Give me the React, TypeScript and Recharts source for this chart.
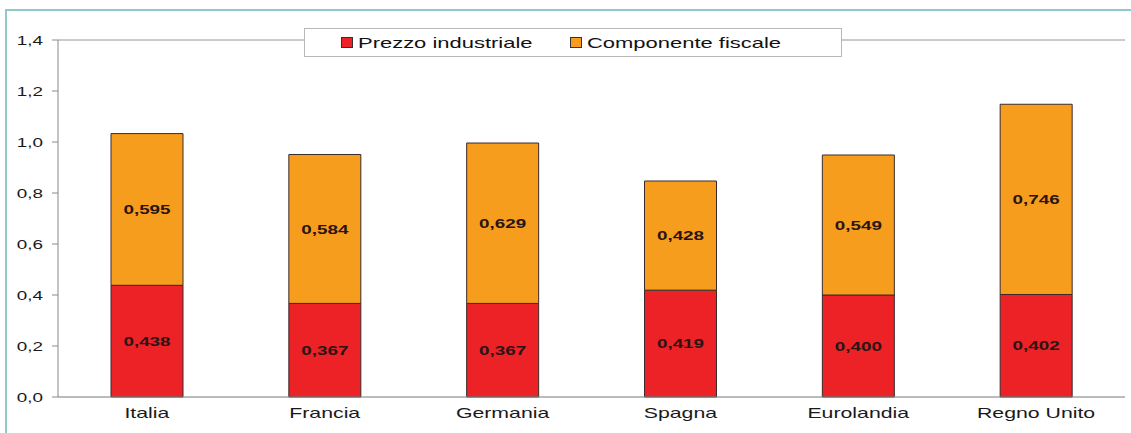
import { Bar, BarChart, CartesianGrid, LabelList, ReferenceLine, XAxis, YAxis } from "recharts";

const paesi = ["Italia", "Francia", "Germania", "Spagna", "Eurolandia", "Regno Unito"];
const prezzoIndustriale = [0.438, 0.367, 0.367, 0.419, 0.4, 0.402];
const componenteFiscale = [0.595, 0.584, 0.629, 0.428, 0.549, 0.746];
const yTicks = [0, 0.2, 0.4, 0.6, 0.8, 1.0, 1.2, 1.4];

const RED = "#ec2227";
const ORANGE = "#f79d1e";
const FONT = "Liberation Sans, Arial, sans-serif";
// the typeface in this figure is set wide, so text is stretched horizontally
const SX = 1.52;

const data = paesi.map((paese, i) => ({
	paese,
	prezzo: prezzoIndustriale[i],
	fiscale: componenteFiscale[i],
}));

const fmt3 = (v: any) => Number(v).toFixed(3).replace(".", ",");
const fmt1 = (v: any) => Number(v).toFixed(1).replace(".", ",");

const XTick = ({ x, y, payload }: any) => (
	<g transform={`translate(${x},${y})`}>
		<text transform={`scale(${SX},1)`} textAnchor="middle" dy="0.71em" fontSize={14} fill="#1a1a1a" fontFamily={FONT}>
			{payload.value}
		</text>
	</g>
);

const YTick = ({ x, y, payload }: any) => (
	<g transform={`translate(${x},${y})`}>
		<text transform="scale(1.45,1)" textAnchor="end" dy="0.36em" fontSize={13} fill="#1a1a1a" fontFamily={FONT}>
			{fmt1(payload.value)}
		</text>
	</g>
);

const ValueLabel = ({ x, y, width, height, value }: any) => (
	<g transform={`translate(${x + width / 2},${y + height / 2})`}>
		<text transform="scale(1.45,1)" textAnchor="middle" dy="0.36em" fontSize={13} fontWeight="bold" fill="#2a1414" fontFamily={FONT}>
			{fmt3(value)}
		</text>
	</g>
);

const LegendOverlay = () => (
	<svg width={1131} height={433} style={{ position: "absolute", top: 0, left: 0, pointerEvents: "none" }}>
		<rect x={304.5} y={28.5} width={537} height={28} fill="#fff" stroke="#b8b8b8" />
		<rect x={341.5} y={37.5} width={11} height={10} fill={RED} stroke="#333" />
		<g transform="translate(358,43)">
			<text transform="scale(1.57,1)" dy="0.36em" fontSize={14} fill="#111" fontFamily={FONT}>
				Prezzo industriale
			</text>
		</g>
		<rect x={570.5} y={37.5} width={11} height={10} fill={ORANGE} stroke="#333" />
		<g transform="translate(587,43)">
			<text transform="scale(1.57,1)" dy="0.36em" fontSize={14} fill="#111" fontFamily={FONT}>
				Componente fiscale
			</text>
		</g>
	</svg>
);

const App = () => {
	return (
		<div style={{ position: "absolute", top: 0, left: 0, width: 1131, height: 433, background: "#fff" }}>
			{/* teal frame around the figure */}
			<div
				style={{
					position: "absolute",
					left: 5,
					top: 9,
					width: 1126,
					height: 424,
					borderTop: "2px solid #8ec9cc",
					borderLeft: "2px solid #8ec9cc",
					boxSizing: "border-box",
				}}
			/>
			<BarChart
				width={1131}
				height={433}
				data={data}
				margin={{ top: 40, right: 6, bottom: 0, left: 0 }}
				barCategoryGap={0}
				style={{ position: "absolute", top: 0, left: 0 }}
			>
				<CartesianGrid vertical={false} stroke="#dcdcdc" />
				<XAxis dataKey="paese" height={36} tickLine={false} tickSize={0} tickMargin={11} axisLine={{ stroke: "#8a8a8a" }} tick={<XTick />} />
				<YAxis
					yAxisId="l"
					domain={[0, 1.4]}
					ticks={yTicks}
					width={58}
					tickSize={6}
					tickMargin={9}
					tickLine={{ stroke: "#8a8a8a" }}
					axisLine={{ stroke: "#8a8a8a" }}
					tick={<YTick />}
				/>
				<YAxis yAxisId="r" orientation="right" width={0} tick={false} tickLine={false} axisLine={{ stroke: "#7a7a7a" }} />
				<ReferenceLine yAxisId="l" y={1.4} stroke="#a8a8a8" />
				<Bar yAxisId="l" dataKey="prezzo" stackId="a" fill={RED} stroke="#3a2a2a" strokeWidth={1} barSize={72} isAnimationActive={false}>
					<LabelList dataKey="prezzo" content={<ValueLabel />} />
				</Bar>
				<Bar yAxisId="l" dataKey="fiscale" stackId="a" fill={ORANGE} stroke="#3a2a2a" strokeWidth={1} barSize={72} isAnimationActive={false}>
					<LabelList dataKey="fiscale" content={<ValueLabel />} />
				</Bar>
			</BarChart>
			<LegendOverlay />
		</div>
	);
};

export default App;
